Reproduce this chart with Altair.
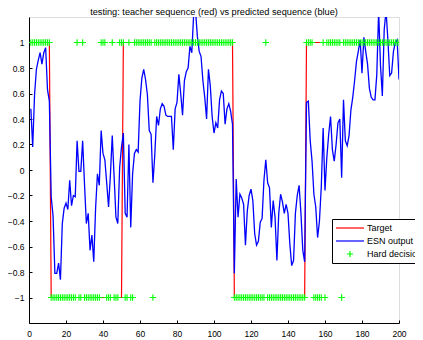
import altair as alt
import pandas as pd

# ---- data ----
x_vals = list(range(1, 201))

# target sequence as (value, run length)
target_runs = [(1, 11), (-1, 39), (1, 60), (-1, 39), (1, 51)]

esn_output = [
    0.48, 0.18, 0.59, 0.79, 0.86, 0.92, 0.83, 0.92, 0.96, 0.63,
    0.54, -0.21, -0.36, -0.81, -0.81, -0.73, -0.86, -0.42, -0.30, -0.26,
    -0.31, -0.08, -0.28, -0.20, -0.21, 0.23, -0.01, -0.01, 0.23, -0.11,
    -0.42, -0.34, -0.63, -0.51, -0.72, -0.30, -0.03, -0.12, 0.31, 0.13,
    0.08, -0.10, -0.29, -0.04, 0.27, -0.05, -0.37, -0.42, 0.02, 0.18,
    0.29, -0.34, -0.37, 0.20, -0.45, -0.03, 0.13, 0.16, 0.14, 0.54,
    0.72, 0.79, 0.71, 0.59, 0.31, 0.28, -0.10, 0.12, 0.42, 0.35,
    0.48, 0.52, 0.50, 0.43, 0.42, 0.42, 0.42, 0.16, 0.48, 0.53,
    0.75, 0.60, 0.43, 0.70, 0.77, 0.80, 0.97, 0.92, 1.22, 1.25,
    1.05, 0.93, 0.89, 0.70, 0.57, 0.40, 0.79, 0.66, 0.42, 0.29,
    0.37, 0.33, 0.55, 0.62, 0.60, 0.36, 0.48, 0.52, 0.46, 0.36,
    -0.81, -0.07, -0.37, -0.19, -0.22, -0.27, -0.59, -0.32, -0.20, -0.15,
    -0.24, -0.50, -0.59, -0.56, -0.41, -0.38, -0.08, 0.08, -0.10, -0.14,
    -0.45, -0.24, -0.37, -0.71, -0.34, -0.19, -0.25, -0.34, -0.27, -0.34,
    -0.58, -0.75, -0.71, -0.34, -0.20, -0.12, -0.34, -0.63, -0.72, 0.53,
    0.54, 0.23, 0.07, -0.19, -0.29, -0.53, -0.40, -0.13, 0.33, -0.16,
    0.10, 0.28, 0.42, 0.16, 0.07, 0.20, 0.37, 0.40, -0.06, 0.55,
    0.23, 0.19, 0.27, 0.47, 0.57, 0.70, 0.85, 0.93, 1.02, 0.76,
    1.04, 0.93, 0.83, 0.64, 0.57, 0.55, 0.55, 0.75, 1.25, 0.82,
    0.58, 1.10, 1.25, 1.02, 0.74, 0.76, 0.93, 1.00, 1.02, 0.71,
]

# hard decision as (value, run length)
hard_runs = [
    (1, 11), (-1, 14), (1, 1), (-1, 2), (1, 1), (-1, 9), (1, 3), (-1, 3),
    (1, 1), (-1, 3), (1, 3), (-1, 2), (1, 1), (-1, 2), (1, 10), (-1, 1),
    (1, 43), (-1, 17), (1, 1), (-1, 21), (1, 4), (-1, 5), (1, 1), (-1, 1),
    (1, 8), (-1, 1), (1, 31),
]

series_names = ["Target", "ESN output", "Hard decision"]
series_colors = ["#ff0000", "#0000ff", "#00ff00"]
x_ticks = [0, 20, 40, 60, 80, 100, 120, 140, 160, 180, 200]
y_ticks = [-1, -0.8, -0.6, -0.4, -0.2, 0, 0.2, 0.4, 0.6, 0.8, 1]
title_text = "testing: teacher sequence (red) vs predicted sequence (blue)"


def expand(runs):
    out = []
    for v, n in runs:
        out += [v] * n
    return out


df = pd.DataFrame({
    "x": x_vals,
    "target": expand(target_runs),
    "esn": esn_output,
    "hard": expand(hard_runs),
})
# legend-only rows, placed outside the x domain so the clipped marks are not drawn
legend_df = pd.DataFrame({"series": series_names, "x": [-50] * 3, "y": [0] * 3})
title_df = pd.DataFrame({"t": [title_text]})

FONT = "Liberation Sans"
W, H = 370, 306
xscale = alt.Scale(domain=[0, 200], nice=False, zero=False)
yscale = alt.Scale(domain=[-1.2, 1.2], nice=False, zero=False)

x_axis = alt.Axis(values=x_ticks, title=None, grid=False, labelFlush=False,
                  tickSize={"expr": "-3"}, labelPadding=9, domainColor="black",
                  tickColor="black", labelColor="black", labelFontSize=8.5,
                  labelFont=FONT, format="d", domainWidth=1, tickWidth=1)
y_axis = alt.Axis(values=y_ticks, title=None, grid=False,
                  tickSize={"expr": "-3"}, labelPadding=8, domainColor="black",
                  tickColor="black", labelColor="black", labelFontSize=8.5,
                  labelFont=FONT, labelExpr="format(datum.value, '~g')",
                  domainWidth=1, tickWidth=1, labelFlush=False)

base = alt.Chart(df)

red = base.mark_line(color="#ff0000", strokeWidth=1.2, clip=True).encode(
    x=alt.X("x:Q", scale=xscale, axis=x_axis),
    y=alt.Y("target:Q", scale=yscale, axis=y_axis),
)
blue = base.mark_line(color="#0000ff", strokeWidth=1.3, clip=True).encode(
    x=alt.X("x:Q", scale=xscale, axis=x_axis),
    y=alt.Y("esn:Q", scale=yscale, axis=y_axis),
)
green = base.mark_point(shape="M-1,0L1,0M0,-1L0,1", size=42, filled=False,
                        color="#00ff00", strokeWidth=1.1, opacity=1,
                        clip=True).encode(
    x=alt.X("x:Q", scale=xscale, axis=x_axis),
    y=alt.Y("hard:Q", scale=yscale, axis=y_axis),
)

legend = alt.Legend(orient="none", legendX=303, legendY=202, title=None,
                    strokeColor="black", fillColor="white", padding=3,
                    labelFont=FONT, labelFontSize=9, labelColor="black",
                    symbolSize=100, symbolStrokeWidth=1.2, labelOffset=20,
                    rowPadding=2, cornerRadius=0)

legend_layer = alt.Chart(legend_df).mark_point(filled=False, size=100,
                                               clip=True, opacity=1).encode(
    x=alt.X("x:Q", scale=xscale, axis=x_axis),
    y=alt.Y("y:Q", scale=yscale, axis=y_axis),
    color=alt.Color("series:N", scale=alt.Scale(domain=series_names,
                                                range=series_colors),
                    legend=legend),
    shape=alt.Shape("series:N", scale=alt.Scale(
        domain=series_names,
        range=["M-1,0L4.6,0", "M-1,0L4.6,0", "M1.2,0L2.4,0M1.8,-0.6L1.8,0.6"]),
        legend=legend),
)

# chart title, centred above the plot area
title_layer = alt.Chart(title_df).mark_text(
    font=FONT, fontSize=9.2, color="black", align="center",
    baseline="alphabetic").encode(
    text="t:N",
    x=alt.value(W / 2),
    y=alt.value(-1.8),
)

chart = alt.layer(red, blue, green, legend_layer, title_layer).properties(
    width=W,
    height=H,
    autosize="none",
    padding={"left": 21, "top": 9, "right": 16, "bottom": 15},
).configure_view(stroke=None).configure(background="white")

chart.save("out.html", embed_options={"renderer": "svg", "actions": False})
